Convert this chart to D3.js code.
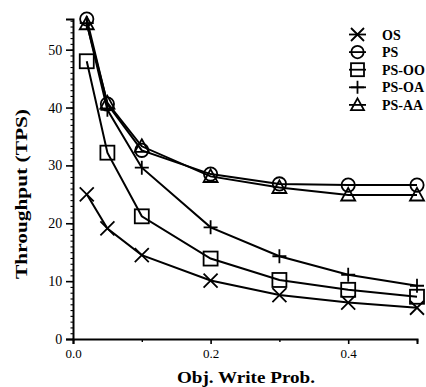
<!DOCTYPE html>
<html>
<head>
<meta charset="utf-8">
<script src="https://cdn.jsdelivr.net/npm/d3@7"></script>
<style>
  body { margin: 0; background: #fff; }
  text { font-family: "Liberation Serif", "DejaVu Serif", serif; fill: #000; }
</style>
</head>
<body>
<div id="chart"></div>
<script>
// data
const writeProb = [0.02, 0.05, 0.1, 0.2, 0.3, 0.4, 0.5];
const osValues   = [25.0, 19.1, 14.5, 10.1, 7.6, 6.3, 5.4];
const psValues   = [55.3, 40.6, 32.6, 28.5, 26.8, 26.6, 26.6];
const psOOValues = [48.0, 32.2, 21.2, 13.9, 10.2, 8.5, 7.3];
const psOAValues = [54.6, 39.6, 29.6, 19.3, 14.3, 11.1, 9.2];
const psAAValues = [54.5, 40.8, 33.3, 28.1, 26.2, 24.9, 24.9];
const seriesNames = ['OS', 'PS', 'PS-OO', 'PS-OA', 'PS-AA'];
const seriesMarkers = ['cross', 'circle', 'square', 'plus', 'triangle'];
const xTickValues = [0.0, 0.2, 0.4];
const yTickValues = [0, 10, 20, 30, 40, 50];

const series = [osValues, psValues, psOOValues, psOAValues, psAAValues].map((vals, i) => ({
  name: seriesNames[i],
  marker: seriesMarkers[i],
  points: vals.map((v, j) => ({ x: writeProb[j], y: v }))
}));

const width = 426, height = 387;
const margin = { left: 73, right: 9, top: 19, bottom: 48 };

const svg = d3.select('#chart').append('svg')
  .attr('width', width)
  .attr('height', height);

const xScale = d3.scaleLinear().domain([0, 0.5]).range([margin.left, width - margin.right]);
const yScale = d3.scaleLinear().domain([0, 55.3]).range([height - margin.bottom, margin.top]);

// axes
const xAxis = svg.append('g')
  .attr('transform', `translate(0, ${height - margin.bottom})`)
  .call(d3.axisBottom(xScale).tickValues(xTickValues).tickFormat(d3.format('.1f')).tickSizeOuter(0).tickSize(5));
xAxis.select('.domain').attr('stroke-width', 2);
xAxis.selectAll('.tick line').attr('stroke-width', 1.6);
xAxis.selectAll('.tick text').attr('font-size', 13).attr('dy', '0.85em');

svg.append('g')
  .attr('transform', `translate(0, ${height - margin.bottom})`)
  .call(d3.axisBottom(xScale).tickValues([0.1, 0.3, 0.5]).tickFormat('').tickSizeOuter(0).tickSizeInner(3))
  .call(g => g.select('.domain').remove())
  .selectAll('.tick line').attr('stroke-width', 1.4);

const yAxis = svg.append('g')
  .attr('transform', `translate(${margin.left}, 0)`)
  .call(d3.axisLeft(yScale).tickValues(yTickValues).tickSizeOuter(0).tickSize(7));
yAxis.select('.domain').attr('stroke-width', 2);
yAxis.selectAll('.tick line').attr('stroke-width', 1.6);
yAxis.selectAll('.tick text').attr('font-size', 14).attr('dx', '-0.05em');

svg.append('g')
  .attr('transform', `translate(${margin.left}, 0)`)
  .call(d3.axisLeft(yScale).tickValues(d3.range(1, 56)).tickFormat('').tickSizeOuter(0).tickSizeInner(2.5))
  .call(g => g.select('.domain').remove())
  .selectAll('.tick line').attr('stroke-width', 1.1);

// axis titles
svg.append('text')
  .attr('x', 246).attr('y', 383)
  .attr('text-anchor', 'middle')
  .attr('font-size', 16).attr('font-weight', 'bold')
  .attr('textLength', 138).attr('lengthAdjust', 'spacingAndGlyphs')
  .text('Obj. Write Prob.');

svg.append('text')
  .attr('transform', 'translate(27, 194) rotate(-90)')
  .attr('text-anchor', 'middle')
  .attr('font-size', 16).attr('font-weight', 'bold')
  .attr('textLength', 170).attr('lengthAdjust', 'spacingAndGlyphs')
  .text('Throughput (TPS)');

// lines
const line = d3.line().x(d => xScale(d.x)).y(d => yScale(d.y));
svg.append('g').selectAll('path')
  .data(series)
  .join('path')
  .attr('fill', 'none')
  .attr('stroke', '#000')
  .attr('stroke-width', 2)
  .attr('d', d => line(d.points));

// markers
function drawMarker(g, type, cx, cy, s) {
  const m = g.append('g').attr('transform', `translate(${cx}, ${cy})`)
    .attr('fill', 'none').attr('stroke', '#000').attr('stroke-width', 1.8);
  if (type === 'cross') {
    m.append('path').attr('d', `M${-s},${-s}L${s},${s}M${-s},${s}L${s},${-s}`);
  } else if (type === 'circle') {
    m.append('circle').attr('r', s * 0.95);
  } else if (type === 'square') {
    m.append('rect').attr('x', -s).attr('y', -s).attr('width', 2 * s).attr('height', 2 * s);
  } else if (type === 'plus') {
    m.append('path').attr('d', `M${-s},0L${s},0M0,${-s}L0,${s}`);
  } else if (type === 'triangle') {
    m.append('path').attr('d', `M0,${-s}L${s},${s * 0.8}L${-s},${s * 0.8}Z`);
  }
}

const markerLayer = svg.append('g');
series.forEach(s => {
  s.points.forEach(p => drawMarker(markerLayer, s.marker, xScale(p.x), yScale(p.y), 7));
});

// legend
const legend = svg.append('g');
series.forEach((s, i) => {
  const y = 34.5 + i * 17.6;
  legend.append('line')
    .attr('x1', 349).attr('x2', 366).attr('y1', y).attr('y2', y)
    .attr('stroke', '#000').attr('stroke-width', 1.8);
  drawMarker(legend, s.marker, 357.5, y, 6.5);
  legend.append('text')
    .attr('x', 382).attr('y', y + 5)
    .attr('font-size', 14).attr('font-weight', 'bold')
    .text(s.name);
});
</script>
</body>
</html>
